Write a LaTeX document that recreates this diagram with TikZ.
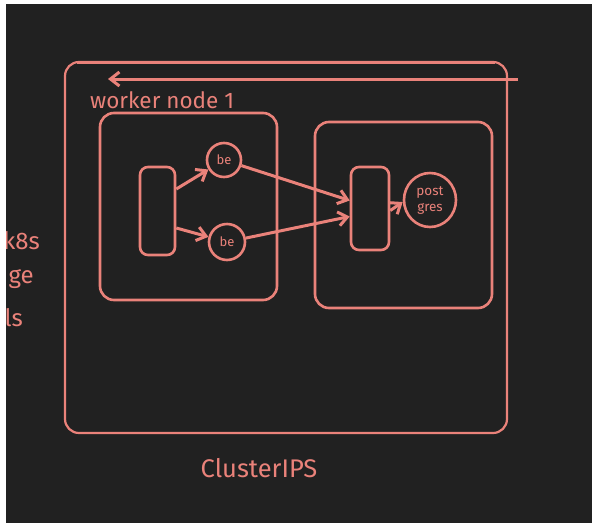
\documentclass[tikz,border=0pt]{standalone}
\usepackage{fontspec}
\setmainfont{Fira Sans}
\usetikzlibrary{arrows.meta,shapes.geometric}
\definecolor{bgdark}{RGB}{33,33,33}
\definecolor{salmon}{RGB}{234,130,122}
\begin{document}
\begin{tikzpicture}[x=1pt,y=-1pt,
  box/.style={draw=salmon,rounded corners=14pt},
  inbox/.style={draw=salmon,line width=2.6pt,rounded corners=8pt,inner sep=0pt},
  circ/.style={draw=salmon,line width=2.6pt,circle,inner sep=0pt,text=salmon},
  lbl/.style={text=salmon,inner sep=0pt},
  conn/.style={draw=salmon,line width=3pt,-{Straight Barb[length=9pt,width=14pt,line width=3pt]}},
]
\useasboundingbox (0,0) rectangle (592,523);
\fill[white] (0,0) rectangle (592,523);
\fill[bgdark] (6,4) rectangle (592,523);
% cut-off text at the left
\node[lbl,anchor=east,font=\fontsize{24}{26}\selectfont] (t1) at (40,241) {k8s};
\node[lbl,anchor=east,font=\fontsize{24}{26}\selectfont] (t2) at (34,279) {ge};
\node[lbl,anchor=east,font=\fontsize{24}{26}\selectfont] (t3) at (23,318) {ls};
\fill[white] (0,4) rectangle (6,523);
% outer cluster box
\node[box,line width=2.2pt,outer sep=0pt,minimum width=442pt,minimum height=371pt,inner sep=0pt] (outer) at (286,247.5) {};
\draw[salmon,line width=3.6pt] ([xshift=12pt,yshift=-0.3pt]outer.north west) -- ([xshift=-12pt,yshift=-0.3pt]outer.north east);
\coordinate (ars) at (518,79);
\coordinate (are) at (108,79);
\draw[conn] (ars) -- (are);
\node[lbl,anchor=west,font=\fontsize{22.5}{24}\selectfont] (wlab) at (90,100) {worker node 1};
% worker node 1
\node[box,line width=2.6pt,minimum width=177pt,minimum height=187pt,inner sep=0pt] (wn1) at (188.5,206.5) {};
\node[inbox,minimum width=35pt,minimum height=88pt] (lb) at (157.5,211) {};
\node[circ,minimum size=34pt,font=\fontsize{13}{14}\selectfont] (be1) at (224,160) {be};
\node[circ,minimum size=36pt,font=\fontsize{13}{14}\selectfont] (be2) at (227,242) {be};
% second node
\node[box,line width=2.6pt,minimum width=177pt,minimum height=186pt,inner sep=0pt] (wn2) at (403.5,215) {};
\node[draw=salmon,line width=2.6pt,ellipse,inner sep=0pt,text=salmon,minimum width=52pt,minimum height=54pt,align=center,font=\fontsize{13.5}{16}\selectfont] (pg) at (430,200) {post\\gres};
\node[inbox,minimum width=38pt,minimum height=83pt] (svc) at (370,208.5) {};
% connectors
\draw[conn] ([yshift=22pt]lb.east) -- (be1);
\draw[conn] ([yshift=-17pt]lb.east) -- (be2);
\draw[conn] (be1) -- ([yshift=8pt]svc.west);
\draw[conn] (be2) -- ([yshift=-8pt]svc.west);
\draw[conn] ([yshift=-2pt]svc.east) -- ([yshift=-2pt]pg.west);
\node[lbl,font=\fontsize{25.5}{28}\selectfont] (cip) at (259,468) {ClusterIPS};
\end{tikzpicture}
\end{document}
